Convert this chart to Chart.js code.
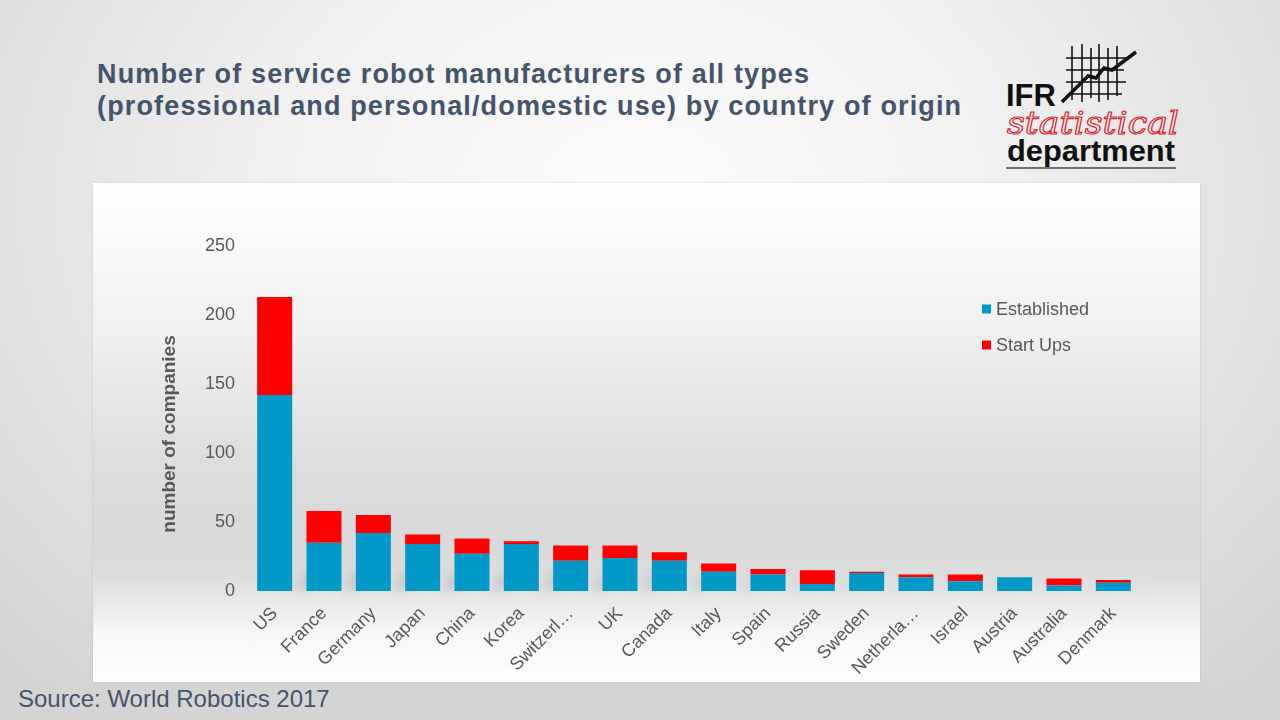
<!DOCTYPE html>
<html>
<head>
<meta charset="utf-8">
<script src="https://cdn.jsdelivr.net/npm/chart.js@4.4.1/dist/chart.umd.min.js"></script>
<style>
  html, body { margin: 0; padding: 0; }
  body {
    width: 1280px; height: 720px; overflow: hidden; position: relative;
    font-family: "Liberation Sans", Arial, sans-serif;
    background: radial-gradient(ellipse 900px 700px at 640px 200px, #fbfbfb 0%, #f1f1f1 40%, #dcdcdc 80%, #d2d2d2 100%);
  }
  #title {
    position: absolute; left: 97px; top: 58px; margin: 0;
    font-size: 27px; line-height: 32px; font-weight: bold; color: #44546a; letter-spacing: 1.15px;
  }
  #panel {
    position: absolute; left: 93px; top: 183px; width: 1107px; height: 499px;
    background: linear-gradient(to bottom, #ffffff 0%, #f0f0f0 30%, #dedede 55%, #d9d9d9 70%, #dcdcdc 78%, #f6f6f6 90%, #ffffff 100%);
    box-shadow: 0 0 2px rgba(0,0,0,0.15);
  }
  #wrap { position: absolute; left: 93px; top: 183px; width: 1107px; height: 499px; }
  #band { position: absolute; left: 0; top: 682px; width: 1280px; height: 38px; background: #d4d4d4; }
  #source {
    position: absolute; left: 18px; top: 685px; font-size: 24px; color: #44546a;
  }
  #logo { position: absolute; left: 1000px; top: 40px; width: 190px; height: 135px; }
</style>
</head>
<body>
<div id="band"></div>
<div id="title">Number of service robot manufacturers of all types<br>(professional and personal/domestic use) by country of origin</div>
<svg id="logo" viewBox="0 0 190 135" xmlns="http://www.w3.org/2000/svg">
  <g stroke="#111" stroke-width="1.6" fill="none">
    <line x1="72" y1="6" x2="72" y2="60"/>
    <line x1="82" y1="4" x2="82" y2="62"/>
    <line x1="91" y1="8" x2="91" y2="58"/>
    <line x1="99" y1="4" x2="99" y2="62"/>
    <line x1="108" y1="8" x2="108" y2="60"/>
    <line x1="117" y1="6" x2="117" y2="56"/>
    <line x1="66" y1="18" x2="126" y2="18"/>
    <line x1="66" y1="30" x2="124" y2="30"/>
    <line x1="66" y1="42" x2="126" y2="42"/>
    <line x1="68" y1="54" x2="122" y2="54"/>
  </g>
  <polyline points="62,62 88,36 96,38 104,28 112,30 136,12" stroke="#111" stroke-width="3.5" fill="none"/>
  <text x="6" y="66" font-family="Liberation Sans, Arial" font-weight="bold" font-size="31" fill="#111">IFR</text>
  <text x="7" y="94" font-family="DejaVu Serif, serif" font-style="italic" font-size="31" fill="none" stroke="#d9232d" stroke-width="1.1" textLength="172" lengthAdjust="spacingAndGlyphs">statistical</text>
  <text x="7" y="121" font-family="Liberation Sans, Arial" font-weight="bold" font-size="29" fill="#111" textLength="168" lengthAdjust="spacingAndGlyphs">department</text>
  <line x1="6" y1="128" x2="176" y2="128" stroke="#444" stroke-width="1.5"/>
</svg>
<div id="panel"></div>
<div id="wrap"><canvas id="c" width="1107" height="499"></canvas></div>
<div id="source">Source: World Robotics 2017</div>
<script>
const categories = ["US", "France", "Germany", "Japan", "China", "Korea", "Switzerl…", "UK", "Canada", "Italy", "Spain", "Russia", "Sweden", "Netherla…", "Israel", "Austria", "Australia", "Denmark"];
const established = [142, 35, 42, 34, 27, 34, 22, 24, 22, 14, 12, 5, 13, 10, 7, 10, 4, 6];
const startUps    = [71, 23, 13, 7, 11, 2, 11, 9, 6, 6, 4, 10, 1, 2, 5, 0, 5, 2];
const seriesNames = ["Established", "Start Ups"];
const seriesColors = ["#0099c8", "#ff0000"];
const yTicks = [0, 50, 100, 150, 200, 250];
const yAxisTitle = "number of companies";

const legendPlugin = {
  id: 'customLegend',
  afterDraw(chart) {
    const ctx = chart.ctx;
    ctx.save();
    ctx.font = '18px "Liberation Sans", Arial, sans-serif';
    ctx.textBaseline = 'middle';
    chart.data.datasets.forEach((ds, i) => {
      const y = 126 + i * 36;
      ctx.fillStyle = ds.backgroundColor;
      ctx.fillRect(889, y - 4.5, 9, 9);
      ctx.fillStyle = '#595959';
      ctx.fillText(ds.label, 903, y + 1);
    });
    // y-axis title
    ctx.translate(77, 251);
    ctx.rotate(-Math.PI / 2);
    ctx.textAlign = 'center';
    ctx.font = 'bold 19px "Liberation Sans", Arial, sans-serif';
    ctx.fillStyle = '#595959';
    ctx.fillText(yAxisTitle, 0, 0);
    ctx.restore();
  }
};

const shadowPlugin = {
  id: 'barShadow',
  beforeDatasetsDraw(chart) {
    const ctx = chart.ctx;
    const meta = chart.getDatasetMeta(0);
    const top = chart.getDatasetMeta(chart.data.datasets.length - 1);
    ctx.save();
    ctx.filter = 'blur(6px)';
    ctx.fillStyle = 'rgba(120,120,120,0.35)';
    meta.data.forEach((bar, i) => {
      const tb = top.data[i];
      const h = Math.min(bar.base - tb.y, 60) * 0.8;
      const half = bar.width / 2;
      ctx.beginPath();
      ctx.moveTo(bar.x + half, bar.base);
      ctx.lineTo(bar.x + half + 20, bar.base - h * 0.5);
      ctx.lineTo(bar.x + half + 20, bar.base - 4);
      ctx.lineTo(bar.x + half, bar.base);
      ctx.closePath();
      ctx.fill();
    });
    ctx.restore();
  }
};

new Chart(document.getElementById('c'), {
  type: 'bar',
  data: {
    labels: categories,
    datasets: [
      { label: seriesNames[0], data: established, backgroundColor: seriesColors[0] },
      { label: seriesNames[1], data: startUps, backgroundColor: seriesColors[1] }
    ]
  },
  options: {
    responsive: false,
    animation: false,
    events: [],
    layout: { padding: { left: 62, right: 62, top: 63, bottom: 0 } },
    datasets: { bar: { barPercentage: 0.71, categoryPercentage: 1.0 } },
    plugins: { legend: { display: false }, tooltip: { enabled: false } },
    scales: {
      x: {
        stacked: true,
        grid: { display: false },
        border: { display: false },
        ticks: {
          color: '#595959',
          font: { family: '"Liberation Sans", Arial, sans-serif', size: 18 },
          minRotation: 45, maxRotation: 45, autoSkip: false, padding: 4
        },
        afterFit(scale) { scale.height = 91; }
      },
      y: {
        stacked: true,
        min: 0, max: 250,
        grid: { display: false },
        border: { display: false },
        afterBuildTicks(scale) { scale.ticks = yTicks.map(v => ({ value: v })); },
        ticks: {
          color: '#595959',
          padding: 7,
          font: { family: '"Liberation Sans", Arial, sans-serif', size: 18 }
        },
        afterFit(scale) { scale.width = 95; }
      }
    }
  },
  plugins: [shadowPlugin, legendPlugin]
});
</script>
</body>
</html>
